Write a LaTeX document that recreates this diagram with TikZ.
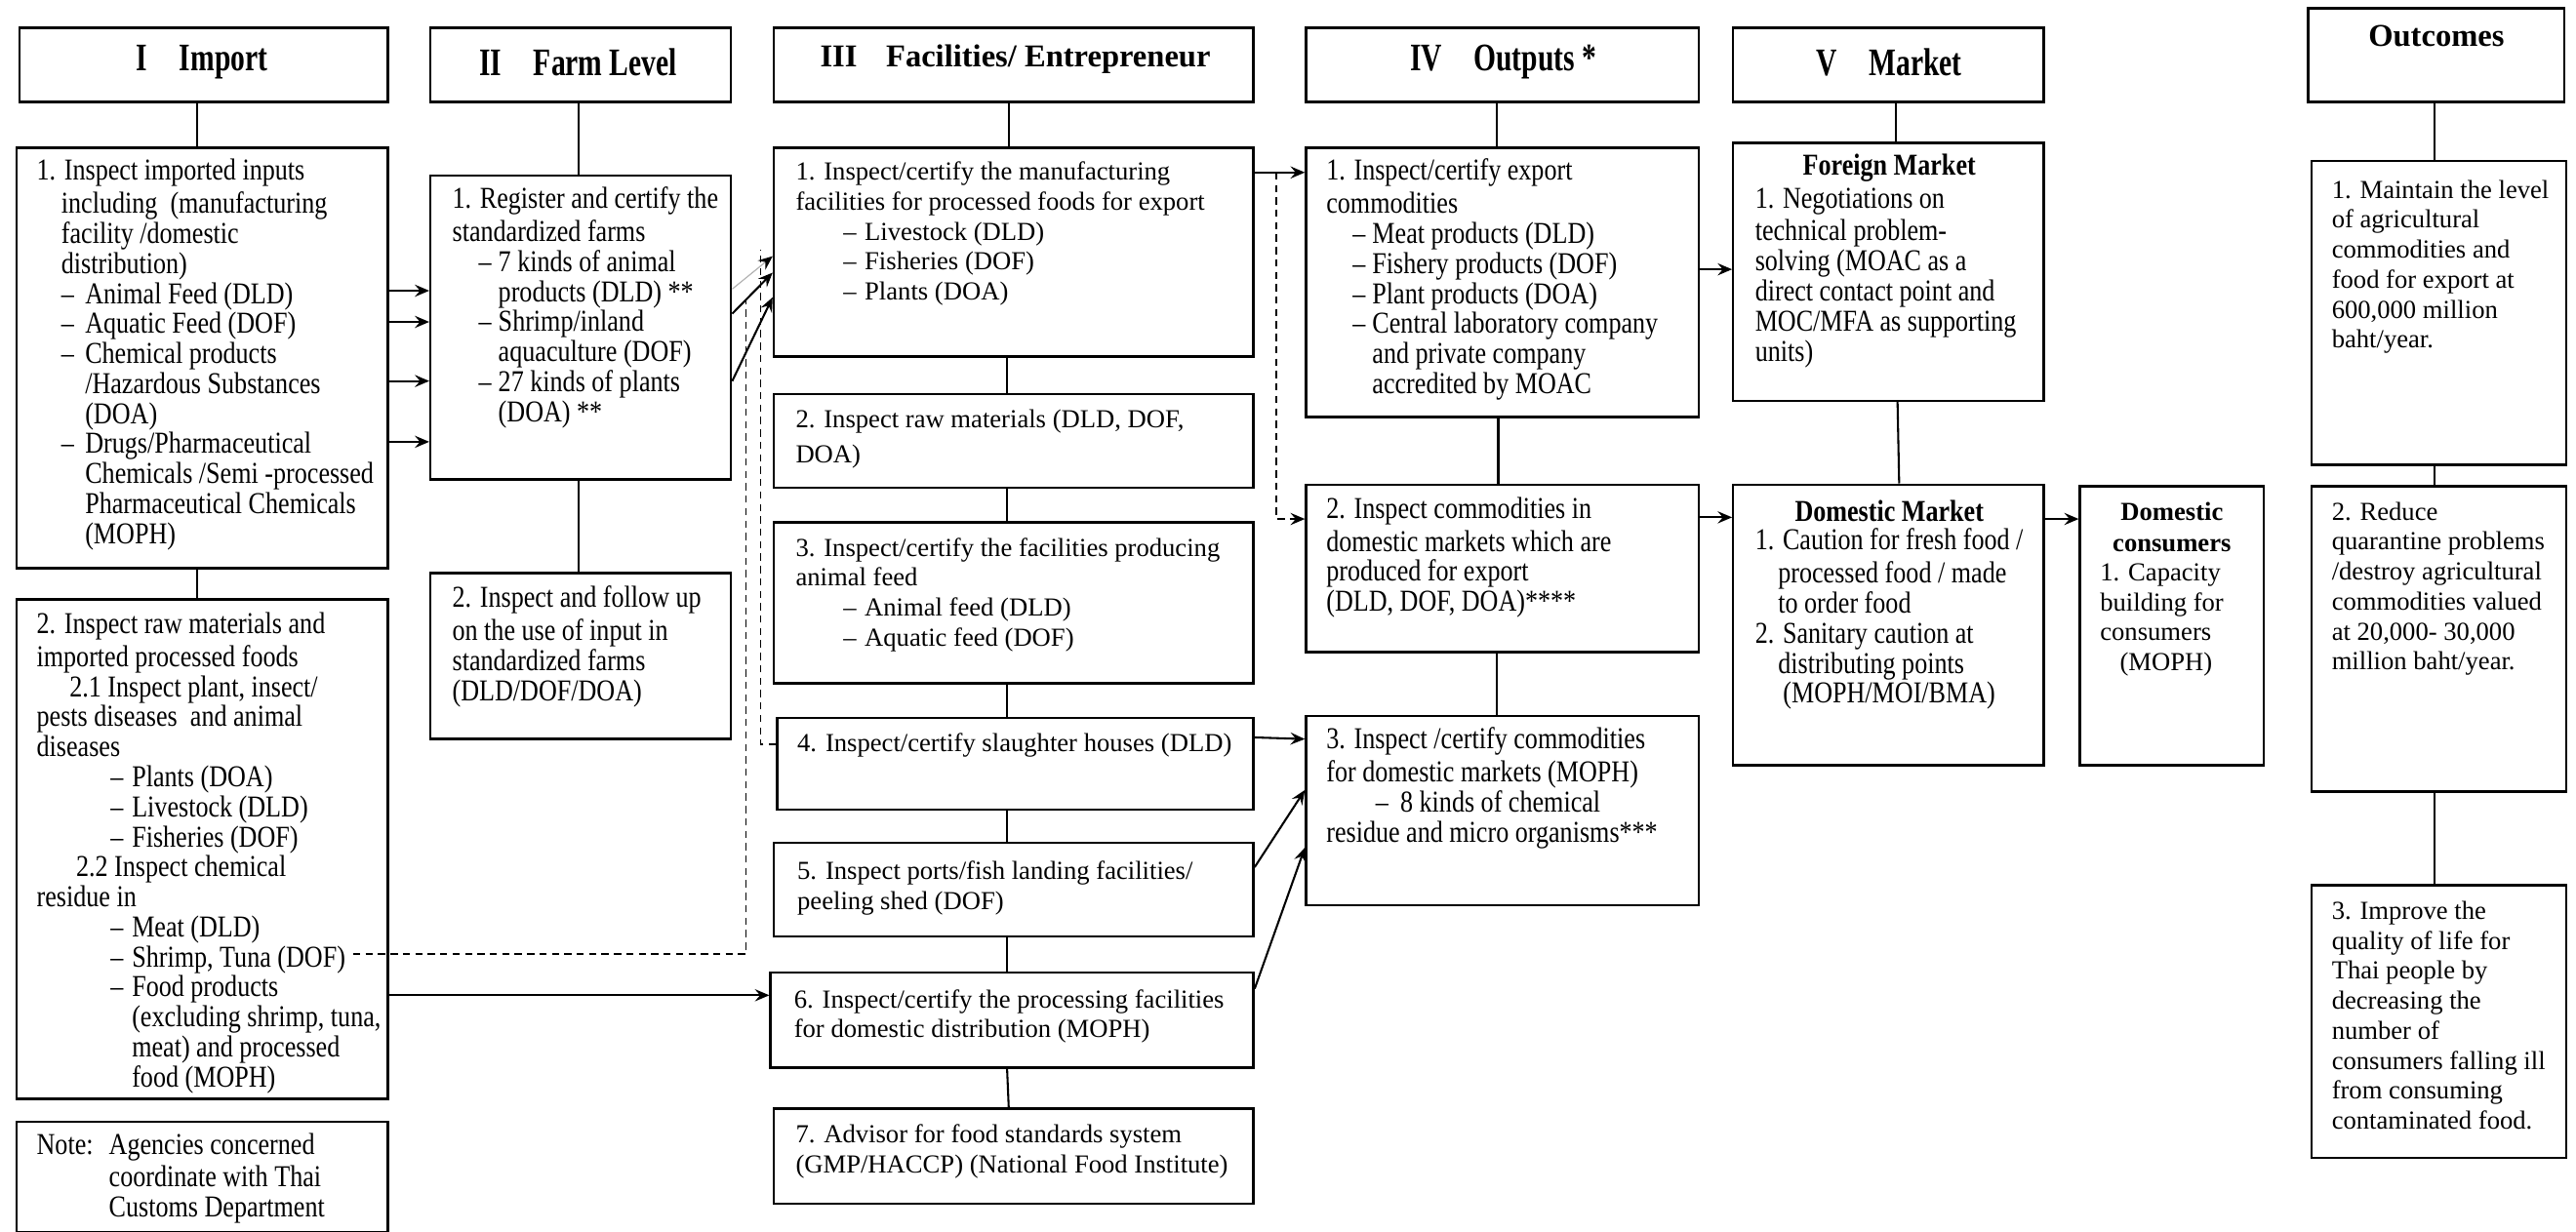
\documentclass[tikz,border=0pt]{standalone}
\usepackage{fontspec}
\setmainfont{Liberation Serif}
\newfontfamily\cond[FakeStretch=0.84]{Liberation Serif}
\newfontfamily\condh[FakeStretch=0.74]{Liberation Serif}
\usetikzlibrary{arrows.meta,fit}
\newlength\U \setlength\U{0.2mm}
\newcommand\hin[1]{\hspace*{#1\U}}
\newcommand\hda[2]{\hspace*{#1\U}\makebox[#2\U][l]{–}}
\tikzset{
  bx/.style={draw, line width=0.8pt, inner sep=0pt},
  tx/.style={anchor=north west, inner sep=0pt, align=left, font=\fontsize{9}{10.4}\selectfont},
  txc/.style={anchor=north west, inner sep=0pt, align=left, font=\cond\fontsize{10.5}{10.4}\selectfont},
  hdn/.style={inner sep=0pt, font=\bfseries\fontsize{11}{13}\selectfont},
  hdc/.style={inner sep=0pt, font=\condh\bfseries\fontsize{13.5}{15}\selectfont},
  ttl/.style={inner sep=0pt, align=center, font=\cond\bfseries\fontsize{10.5}{10.4}\selectfont},
  ttn/.style={inner sep=0pt, align=center, font=\bfseries\fontsize{9}{10.6}\selectfont},
  ln/.style={line width=0.7pt},
  arr/.style={line width=0.7pt, -{Stealth[length=5pt,width=4.2pt,inset=1.8pt]}},
  garr/.style={line width=0.4pt, draw=black!30, -{Stealth[length=5pt,width=4.2pt,inset=1.8pt,color=black]}},
  dline/.style={line width=0.6pt, dash pattern=on 2.5pt off 1.8pt},
}
\begin{document}
\begin{tikzpicture}[x=0.2mm,y=-0.2mm]
\useasboundingbox (0,0) rectangle (1568,750);

% ---------- headers ----------
\node[bx, fit={(12,17) (236,62)}] (imph) {};
\node[hdc] (imph-t) at (123,38) {I\hspace{11pt}Import};
\node[bx, fit={(262,17) (445,62)}] (farmh) {};
\node[hdc] (farmh-t) at (352,38) {II\hspace{11pt}Farm Level};
\node[bx, fit={(471,17) (763,62)}] (fach) {};
\node[hdn] (fach-t) at (618,36) {III\hspace{10pt}Facilities/ Entrepreneur};
\node[bx, fit={(795,17) (1034,62)}] (outph) {};
\node[hdc] (outph-t) at (915,38) {IV\hspace{11pt}Outputs *};
\node[bx, fit={(1055,17) (1244,62)}] (mkth) {};
\node[hdc] (mkth-t) at (1150,38) {V\hspace{11pt}Market};
\node[bx, fit={(1405,5) (1561,62)}] (ochd) {};
\node[hdn] (ochd-t) at (1483,22) {Outcomes};

% ---------- I Import ----------
\node[bx, fit={(10,90) (236,346)}] (imp1) {};
\node[txc] (imp1-t) at (22,96.5) {\strut 1. Inspect imported inputs\\
\hin{15}including\ \ (manufacturing\\
\hin{15}facility /domestic\\
\hin{15}distribution)\\
\hda{15}{14.5}Animal Feed (DLD)\\
\hda{15}{14.5}Aquatic Feed (DOF)\\
\hda{15}{14.5}Chemical products\\
\hin{29.5}/Hazardous Substances\\
\hin{29.5}(DOA)\\
\hda{15}{14.5}Drugs/Pharmaceutical\\
\hin{29.5}Chemicals /Semi -processed\\
\hin{29.5}Pharmaceutical Chemicals\\
\hin{29.5}(MOPH)};

\node[bx, fit={(10,365) (236,669)}] (imp2) {};
\node[txc] (imp2-t) at (22,372.5) {\strut 2. Inspect raw materials and\\
imported processed foods\\
\hin{20}2.1 Inspect plant, insect/\\
pests diseases\ \ and animal\\
diseases\\
\hda{45}{13}Plants (DOA)\\
\hda{45}{13}Livestock (DLD)\\
\hda{45}{13}Fisheries (DOF)\\
\hin{24}2.2 Inspect chemical\\
residue in\\
\hda{45}{13}Meat (DLD)\\
\hda{45}{13}Shrimp, Tuna (DOF)\\
\hda{45}{13}Food products\\
\hin{58}(excluding shrimp, tuna,\\
\hin{58}meat) and processed\\
\hin{58}food (MOPH)};

\node[bx, fit={(10,683) (236,750)}] (note) {};
\node[txc] (note-t) at (22,689.5) {\strut\makebox[44\U][l]{Note:}Agencies concerned\\
\hin{44}coordinate with Thai\\
\hin{44}Customs Department};

% ---------- II Farm ----------
\node[bx, fit={(262,107) (445,292)}] (farm1) {};
\node[txc] (farm1-t) at (275,113.5) {\strut 1. Register and certify the\\
standardized farms\\
\hda{16}{12}7 kinds of animal\\
\hin{28}products (DLD) **\\
\hda{16}{12}Shrimp/inland\\
\hin{28}aquaculture (DOF)\\
\hda{16}{12}27 kinds of plants\\
\hin{28}(DOA) **};

\node[bx, fit={(262,349) (445,450)}] (farm2) {};
\node[txc] (farm2-t) at (275,356.5) {\strut 2. Inspect and follow up\\
on the use of input in\\
standardized farms\\
(DLD/DOF/DOA)};

% ---------- III Facilities ----------
\node[bx, fit={(471,90) (763,217)}] (fac1) {};
\node[tx] (fac1-t) at (484,96.5) {\strut 1. Inspect/certify the manufacturing\\
facilities for processed foods for export\\
\hda{29}{13}Livestock (DLD)\\
\hda{29}{13}Fisheries (DOF)\\
\hda{29}{13}Plants (DOA)};

\node[bx, fit={(471,240) (763,297)}] (fac2) {};
\node[tx] (fac2-t) at (484,247.5) {\strut 2. Inspect raw materials (DLD, DOF,\\[1.5pt]
DOA)};

\node[bx, fit={(471,318) (763,416)}] (fac3) {};
\node[tx] (fac3-t) at (484,325.5) {\strut 3. Inspect/certify the facilities producing\\
animal feed\\
\hda{29}{13}Animal feed (DLD)\\
\hda{29}{13}Aquatic feed (DOF)};

\node[bx, fit={(473,437) (763,493)}] (fac4) {};
\node[tx] (fac4-t) at (485,444.5) {\strut 4. Inspect/certify slaughter houses (DLD)};

\node[bx, fit={(471,513) (763,570)}] (fac5) {};
\node[tx] (fac5-t) at (485,522.5) {\strut 5. Inspect ports/fish landing facilities/\\
peeling shed (DOF)};

\node[bx, fit={(469,592) (763,650)}] (fac6) {};
\node[tx] (fac6-t) at (483,600.5) {\strut 6. Inspect/certify the processing facilities\\
for domestic distribution (MOPH)};

\node[bx, fit={(471,675) (763,733)}] (fac7) {};
\node[tx] (fac7-t) at (484,682.5) {\strut 7. Advisor for food standards system\\
(GMP/HACCP) (National Food Institute)};

% ---------- IV Outputs ----------
\node[bx, fit={(795,90) (1034,254)}] (out1) {};
\node[txc] (out1-t) at (807,96.5) {\strut 1. Inspect/certify export\\
commodities\\
\hda{16}{12}Meat products (DLD)\\
\hda{16}{12}Fishery products (DOF)\\
\hda{16}{12}Plant products (DOA)\\
\hda{16}{12}Central laboratory company\\
\hin{28}and private company\\
\hin{28}accredited by MOAC};

\node[bx, fit={(795,295) (1034,397)}] (out2) {};
\node[txc] (out2-t) at (807,302.5) {\strut 2. Inspect commodities in\\
domestic markets which are\\
produced for export\\
(DLD, DOF, DOA)****};

\node[bx, fit={(795,436) (1034,551)}] (out3) {};
\node[txc] (out3-t) at (807,442.5) {\strut 3. Inspect /certify commodities\\
for domestic markets (MOPH)\\
\hda{30}{15}8 kinds of chemical\\
residue and micro organisms***};

% ---------- V Market ----------
\node[bx, fit={(1055,87) (1244,244)}] (forn) {};
\node[ttl] (forn-h) at (1150,102) {Foreign Market};
\node[txc] (forn-t) at (1068,113.5) {\strut 1. Negotiations on\\
technical problem-\\
solving (MOAC as a\\
direct contact point and\\
MOC/MFA as supporting\\
units)};

\node[bx, fit={(1055,295) (1244,466)}] (dom) {};
\node[ttl] (dom-h) at (1150,311) {Domestic Market};
\node[txc] (dom-t) at (1068,321.5) {\strut 1. Caution for fresh food /\\
\hin{14}processed food / made\\
\hin{14}to order food\\
2. Sanitary caution at\\
\hin{14}distributing points\\
\hin{17}(MOPH/MOI/BMA)};

\node[bx, fit={(1266,296) (1378,466)}] (cons) {};
\node[ttn] (cons-h) at (1322,321) {Domestic\\consumers};
\node[tx] (cons-t) at (1278,340.5) {\strut 1. Capacity\\
building for\\
consumers\\
\hin{12}(MOPH)};

% ---------- Outcomes ----------
\node[bx, fit={(1407,98) (1562,283)}] (oc1) {};
\node[tx] (oc1-t) at (1419,107.5) {\strut 1. Maintain the level\\
of agricultural\\
commodities and\\
food for export at\\
600,000 million\\
baht/year.};

\node[bx, fit={(1407,296) (1562,482)}] (oc2) {};
\node[tx] (oc2-t) at (1419,303.5) {\strut 2. Reduce\\
quarantine problems\\
/destroy agricultural\\
commodities valued\\
at 20,000- 30,000\\
million baht/year.};

\node[bx, fit={(1407,539) (1562,705)}] (oc3) {};
\node[tx] (oc3-t) at (1419,546.5) {\strut 3. Improve the\\
quality of life for\\
Thai people by\\
decreasing the\\
number of\\
consumers falling ill\\
from consuming\\
contaminated food.};

% ---------- vertical links ----------
\draw[ln] (120,0 |- imph.south) -- (120,0 |- imp1.north);
\draw[ln] (120,0 |- imp1.south) -- (120,0 |- imp2.north);
\draw[ln] (352,0 |- farmh.south) -- (352,0 |- farm1.north);
\draw[ln] (352,0 |- farm1.south) -- (352,0 |- farm2.north);
\draw[ln] (614,0 |- fach.south) -- (614,0 |- fac1.north);
\draw[ln] (613,0 |- fac1.south) -- (613,0 |- fac2.north);
\draw[ln] (613,0 |- fac2.south) -- (613,0 |- fac3.north);
\draw[ln] (613,0 |- fac3.south) -- (613,0 |- fac4.north);
\draw[ln] (613,0 |- fac4.south) -- (613,0 |- fac5.north);
\draw[ln] (613,0 |- fac5.south) -- (613,0 |- fac6.north);
\draw[ln] (613,0 |- fac6.south) -- (614,0 |- fac7.north);
\draw[ln] (911,0 |- outph.south) -- (911,0 |- out1.north);
\draw[ln] (912,0 |- out1.south) -- (912,0 |- out2.north);
\draw[ln] (911,0 |- out2.south) -- (911,0 |- out3.north);
\draw[ln] (1154,0 |- mkth.south) -- (1154,0 |- forn.north);
\draw[ln] (1155,0 |- forn.south) -- (1156,0 |- dom.north);
\draw[ln] (1482,0 |- ochd.south) -- (1482,0 |- oc1.north);
\draw[ln] (1482,0 |- oc1.south) -- (1482,0 |- oc2.north);
\draw[ln] (1482,0 |- oc2.south) -- (1482,0 |- oc3.north);

% ---------- arrows ----------
\draw[arr] (imp1.east |- 0,177) -- (farm1.west |- 0,177);
\draw[arr] (imp1.east |- 0,196) -- (farm1.west |- 0,196);
\draw[arr] (imp1.east |- 0,232) -- (farm1.west |- 0,232);
\draw[arr] (imp1.east |- 0,269) -- (farm1.west |- 0,269);

\draw[garr] (farm1.east |- 0,176) -- (fac1.west |- 0,156);
\draw[arr] (farm1.east |- 0,191) -- (fac1.west |- 0,166);
\draw[arr] (farm1.east |- 0,232) -- (fac1.west |- 0,181);

\draw[arr] (imp2.east |- 0,606) -- (fac6.west |- 0,606);

\draw[arr] (fac1.east |- 0,105) -- (out1.west |- 0,105);
\draw[arr] (fac4.east |- 0,449) -- (out3.west |- 0,450);
\draw[arr] (fac5.east |- 0,528) -- (out3.west |- 0,481);
\draw[arr] (fac6.east |- 0,602) -- (out3.west |- 0,516);

\draw[arr] (out1.east |- 0,164) -- (forn.west |- 0,164);
\draw[arr] (out2.east |- 0,315) -- (dom.west |- 0,315);
\draw[arr] (dom.east |- 0,316) -- (cons.west |- 0,316);

% ---------- dashed links ----------
\coordinate (shr) at (215,581);
\coordinate (jA) at (454,182);
\draw[dline] (shr) -- (jA |- shr) -- (jA);
\coordinate (jB) at (463,152);
\draw[dline] (fac4.west |- 0,453) -- (jB |- 0,453) -- (jB);
\coordinate (jC) at (777,105);
\draw[dline, -{Stealth[length=5pt,width=4.2pt,inset=1.8pt]}] (jC) -- (jC |- 0,316) -- (out2.west |- 0,316);
\end{tikzpicture}
\end{document}
